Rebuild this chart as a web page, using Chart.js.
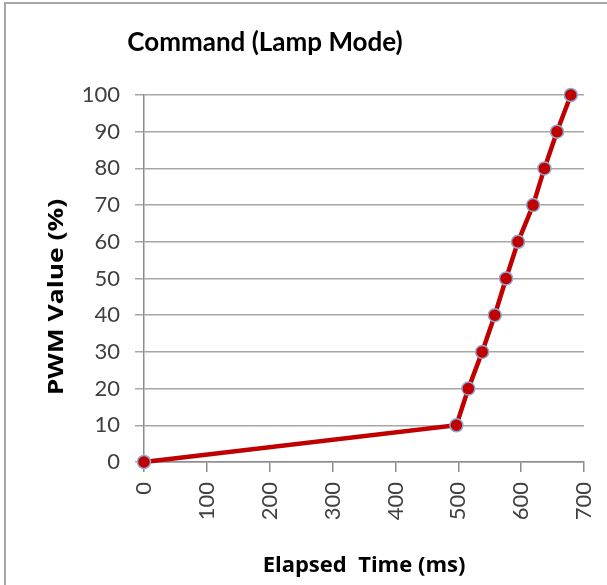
<!DOCTYPE html>
<html>
<head>
<meta charset="utf-8">
<script src="https://cdn.jsdelivr.net/npm/chart.js@4"></script>
<style>
  html, body { margin: 0; padding: 0; background: #fff; }
  #wrap { position: relative; width: 607px; height: 585px; }
  #frame {
    position: absolute; left: 4px; top: 2px; right: 0; bottom: 0;
    border-left: 2px solid #a6a6a6; border-top: 2px solid #a6a6a6;
    pointer-events: none;
  }
</style>
</head>
<body>
<div id="wrap">
  <canvas id="lampChart" width="607" height="585"></canvas>
  <div id="frame"></div>
</div>
<script>
// Data
const elapsedMs = [0, 497, 516, 538, 558, 576, 595, 619, 637, 657, 679];
const pwmValues = [0, 10, 20, 30, 40, 50, 60, 70, 80, 90, 100];
const xTicks = [0, 100, 200, 300, 400, 500, 600, 700];
const yTicks = [0, 10, 20, 30, 40, 50, 60, 70, 80, 90, 100];

const chartTitle = 'Command (Lamp Mode)';
const xTitle = 'Elapsed  Time (ms)';
const yTitle = 'PWM Value (%)';

const points = elapsedMs.map((x, i) => ({ x: x, y: pwmValues[i] }));

// Excel puts the chart title left of centre and the y title a little low,
// so both are drawn by hand
const titlePlugin = {
  id: 'excelTitles',
  afterDraw(chart) {
    const c = chart.ctx;
    c.save();
    c.fillStyle = '#000';
    c.textAlign = 'center';
    c.textBaseline = 'middle';
    c.font = 'bold 26px Lato';
    c.fillText(chartTitle, 265, 43);
    c.translate(57, 297);
    c.rotate(-Math.PI / 2);
    c.font = 'bold 22px "Open Sans"';
    c.scale(1.2, 1); // stretch along the text like the reference
    c.fillText(yTitle, 0, 0);
    c.restore();
  }
};

const ctx = document.getElementById('lampChart').getContext('2d');

new Chart(ctx, {
  type: 'line',
  data: {
    datasets: [{
      data: points,
      borderColor: '#c00000',
      borderWidth: 4.5,
      backgroundColor: '#c00000',
      pointBackgroundColor: '#c00000',
      pointBorderColor: '#8fa8d0',
      pointBorderWidth: 1.5,
      pointRadius: 6.5,
      tension: 0,
      clip: false
    }]
  },
  options: {
    responsive: false,
    animation: false,
    layout: { padding: { left: 39, right: 23, top: 95, bottom: 2 } },
    plugins: {
      legend: { display: false },
      tooltip: { enabled: false }
    },
    scales: {
      x: {
        type: 'linear',
        min: 0,
        max: 700,
        afterBuildTicks: (s) => { s.ticks = xTicks.map(v => ({ value: v })); },
        afterFit: (s) => { s.height = 585 - 462 - 2; s.paddingLeft = 0; s.paddingRight = 0; },
        border: { color: '#8c8c8c', width: 1.5 },
        grid: { drawOnChartArea: false, drawTicks: true, tickLength: 10, color: '#8c8c8c', lineWidth: 1.5 },
        ticks: {
          minRotation: 90, maxRotation: 90, padding: 10, autoSkip: false,
          color: '#404040', font: { family: 'Lato', size: 22 }
        },
        title: {
          display: true, text: xTitle, color: '#000',
          font: { family: 'Open Sans', size: 22, weight: 'bold' },
          padding: { top: 0, bottom: 4 }
        }
      },
      y: {
        min: 0,
        max: 100,
        afterBuildTicks: (s) => { s.ticks = yTicks.map(v => ({ value: v })); },
        afterFit: (s) => { s.width = 144 - 39; },
        border: { color: '#8c8c8c', width: 1.5 },
        grid: { color: '#a6a6a6', lineWidth: 1.5, tickLength: 9 },
        ticks: {
          padding: 15, autoSkip: false, color: '#404040', font: { family: 'Lato', size: 22 }
        },
        title: { display: false, text: yTitle }
      }
    }
  },
  plugins: [titlePlugin]
});
</script>
</body>
</html>
